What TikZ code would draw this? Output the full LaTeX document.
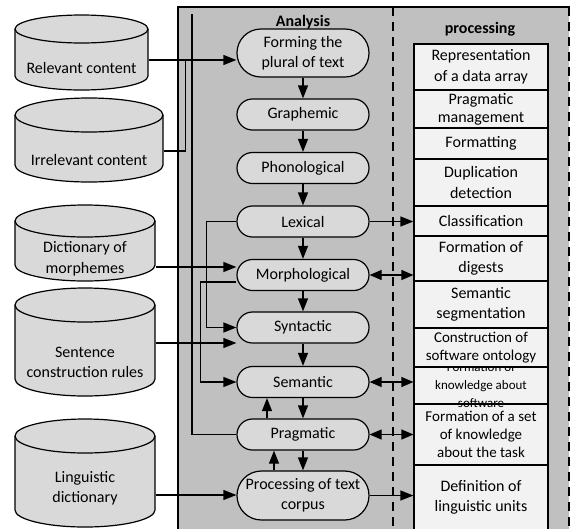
\documentclass[tikz,border=0pt]{standalone}
\usepackage{fontspec}
\setmainfont{Carlito}
\usetikzlibrary{arrows.meta,calc}
\definecolor{panelgray}{HTML}{C0C0C0}
\definecolor{nodegray}{HTML}{D9D9D9}
\definecolor{boxfill}{HTML}{F2F2F2}
\newcommand\dbcyl[8]{%
 \pgfmathsetmacro\cylrx{(#4-#2)/2}%
 \draw[fill=nodegray] (#2,-#3-#6) -- (#2,-#5+#6) arc[start angle=180,end angle=360,x radius=\cylrx pt,y radius=#6pt] -- (#4,-#3-#6) arc[start angle=0,end angle=180,x radius=\cylrx pt,y radius=#6pt] -- cycle;
 \draw (#2,-#3-#6) arc[start angle=180,end angle=360,x radius=\cylrx pt,y radius=#6pt];
 \node[cyltext,minimum width={(#4-#2)*1pt}] (#1) at ({(#2+#4)/2},-#8) {#7};
}
\begin{document}
\begin{tikzpicture}[x=1pt,y=1pt,line width=1.2pt,
  every node/.style={font=\fontsize{16}{20.5}\selectfont},
  cyltext/.style={rectangle,align=center,inner sep=0pt},
  anode/.style={rectangle,draw,fill=nodegray,rounded corners=15.4pt,minimum width=132pt,minimum height=31pt,inner sep=1pt,align=center},
  tallnode/.style={anode,minimum height=48pt,rounded corners=23.9pt},
  box/.style={rectangle,draw,fill=boxfill,minimum width=134pt,inner sep=1pt,align=center},
  lbl/.style={font=\fontsize{16}{20}\selectfont\bfseries},
  arr/.style={-{Triangle[length=13pt,width=10pt]}},
  darr/.style={{Triangle[length=12pt,width=10pt]}-{Triangle[length=12pt,width=10pt]}}]
\useasboundingbox (0,0) rectangle (572,-528);
% panel
\fill[panelgray] (178,-7) rectangle (569,-530);
\draw (178,-530) -- (178,-7) -- (570,-7);
\draw[dash pattern=on 9pt off 6pt] (393,-7) -- (393,-530);
\draw[dash pattern=on 9pt off 6pt] (569,-7) -- (569,-530);
% cylinders
\dbcyl{relc}{15}{15}{148}{90}{14}{Relevant content}{68}
\dbcyl{irrc}{15}{98}{163}{182}{17}{Irrelevant content}{160}
\dbcyl{dict}{15}{205}{155}{281}{16}{Dictionary of\\morphemes}{258.5}
\dbcyl{sent}{15}{288}{155}{396}{17}{Sentence\\construction rules}{362.5}
\dbcyl{ling}{15}{419}{155}{527}{17}{Linguistic\\dictionary}{488}
% labels
\node[lbl] (anl) at (303,-22) {Analysis};
\node[lbl] (prl) at (480,-29) {processing};
% analysis nodes
\node[tallnode] (form) at (303,-53) {Forming the\\plural of text};
\node[anode] (graph) at (303,-114.5) {Graphemic};
\node[anode] (phon) at (303,-168) {Phonological};
\node[anode] (lex) at (303,-221.5) {Lexical};
\node[anode] (morph) at (303,-275) {Morphological};
\node[anode] (syn) at (303,-327.5) {Syntactic};
\node[anode] (sem) at (303,-382) {Semantic};
\node[anode] (prag) at (303,-434.5) {Pragmatic};
\node[tallnode,minimum height=49pt,rounded corners=24.4pt] (proc) at (303,-495.5) {Processing of text\\corpus};
% processing boxes (drawn bottom-up)
\node[box,minimum height=65pt] (b11) at (481,-497.5) {Definition of\\linguistic units};
\node[box,minimum height=61pt,font=\fontsize{15}{18}\selectfont] (b10) at (481,-434.5) {Formation of a set\\of knowledge\\about the task};
\node[box,minimum height=37pt,font=\fontsize{13}{18}\selectfont] (b9) at (481,-385.5) {\smash{\raisebox{-3pt}{\begin{tabular}{@{}c@{}}Formation of\\knowledge about\\software\end{tabular}}}};
\node[box,minimum height=39pt,font=\fontsize{15}{18}\selectfont] (b8) at (481,-347.5) {Construction of\\software ontology};
\node[box,minimum height=47pt] (b7) at (481,-304.5) {Semantic\\segmentation};
\node[box,minimum height=45pt] (b6) at (481,-258.5) {Formation of\\digests};
\node[box,minimum height=30pt] (b5) at (481,-221) {Classification};
\node[box,minimum height=47pt] (b4) at (481,-182.5) {Duplication\\detection};
\node[box,minimum height=31pt] (b3) at (481,-143.5) {Formatting};
\node[box,minimum height=38pt,font=\fontsize{16}{18}\selectfont] (b2) at (481,-109) {Pragmatic\\management};
\node[box,minimum height=46pt] (b1) at (481,-67) {Representation\\of a data array};
% vertical arrows
\draw[arr] (form) -- (graph);
\draw[arr] (graph) -- (phon);
\draw[arr] (phon) -- (lex);
\draw[arr] (lex) -- (morph);
\draw[arr] (morph) -- (syn);
\draw[arr] (syn) -- (sem);
\draw[arr] (sem) -- (prag);
\draw[arr] (prag) -- (proc);
\draw[arr] ([xshift=-36pt]prag.north) -- ([xshift=-36pt]sem.south);
\draw[arr] ([xshift=-29pt]proc.north) -- ([xshift=-29pt]prag.south);
% left inputs
\coordinate (relout) at ([yshift=8pt]relc.east);
\coordinate (irrout) at ([yshift=9pt]irrc.east);
\coordinate (dicout) at ([yshift=-8.5pt]dict.east);
\coordinate (senout) at ([yshift=19.5pt]sent.east);
\coordinate (linout) at ([yshift=-7pt]ling.east);
\draw[arr] (relout) -- (relout -| form.west);
\draw (irrout) -| ($(relout)+(37,0)$);
\draw[arr] (dicout) -- (dicout -| morph.west);
\draw[arr] (senout) -- (senout -| syn.west);
\draw[arr] (linout) -- (linout -| proc.west);
% feedback lines
\draw (prag.west) -| (192,-14);
\draw[arr] (lex.west) -- ++(-30,0) |- (syn.west);
\draw[arr] ([yshift=-7pt]morph.west) -- ++(-36,0) |- (sem.west);
% right links
\draw[arr] (lex.east) -- (lex.east -| b5.west);
\draw[darr] (morph.east) -- (morph.east -| b6.west);
\draw[darr] (sem.east) -- (sem.east -| b9.west);
\draw[darr] (prag.east) -- (prag.east -| b10.west);
\draw[arr] (proc.east) -- (proc.east -| b11.west);
\end{tikzpicture}
\end{document}
